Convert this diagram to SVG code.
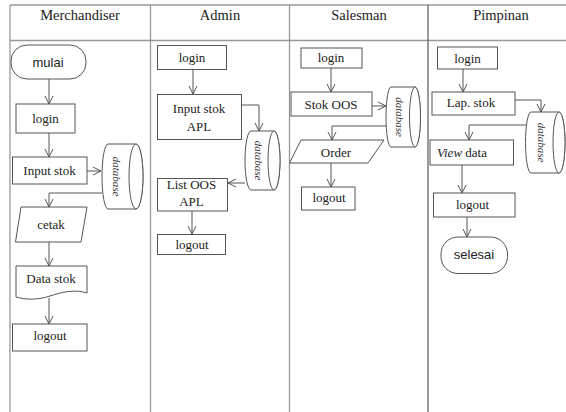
<svg xmlns="http://www.w3.org/2000/svg" width="566" height="412" viewBox="0 0 566 412">
  <defs>
    <marker id="arr" markerUnits="userSpaceOnUse" markerWidth="12" markerHeight="12" refX="9" refY="5" orient="auto">
      <path d="M1,1 L9,5 L1,9" fill="none" stroke="#555" stroke-width="1"/>
    </marker>
  </defs>
  <style>
    .lane { stroke: #999; stroke-width: 1.3; fill: none; }
    .box { fill: #fff; stroke: #555; stroke-width: 1; }
    .conn { fill: none; stroke: #555; stroke-width: 1; marker-end: url(#arr); }
    .hdr { font-family: "Liberation Serif", serif; font-size: 14.5px; fill: #222; text-anchor: middle; }
    .t { font-family: "Liberation Serif", serif; font-size: 13px; fill: #222; text-anchor: middle; }
    .s { font-family: "Liberation Sans", Arial, sans-serif; font-size: 13px; fill: #222; text-anchor: middle; }
    .db { font-family: "Liberation Serif", serif; font-size: 11px; font-style: italic; fill: #333; text-anchor: middle; }
  </style>
  <rect width="566" height="412" fill="#fff"/>

  <!-- swimlane frame -->
  <g id="lanes">
    <line class="lane" x1="10" y1="5" x2="566" y2="5"/>
    <line class="lane" x1="10" y1="40.5" x2="566" y2="40.5"/>
    <line class="lane" x1="10" y1="5" x2="10" y2="412"/>
    <line class="lane" x1="150.5" y1="5" x2="150.5" y2="412"/>
    <line class="lane" x1="289.5" y1="5" x2="289.5" y2="412"/>
    <line class="lane" x1="428" y1="5" x2="428" y2="412" style="stroke:#666"/>
    <text class="hdr" x="80" y="20">Merchandiser</text>
    <text class="hdr" x="220" y="20">Admin</text>
    <text class="hdr" x="359" y="20">Salesman</text>
    <text class="hdr" x="501" y="20">Pimpinan</text>
  </g>

  <!-- connectors -->
  <g id="connectors">
    <!-- Merchandiser -->
    <path class="conn" d="M49,79 V104"/>
    <path class="conn" d="M49,133 V157"/>
    <path class="conn" d="M87,171 H101"/>
    <path class="conn" d="M102,193 H49 V207"/>
    <path class="conn" d="M49,242 V266"/>
    <path class="conn" d="M49,298 V324"/>
    <!-- Admin -->
    <path class="conn" d="M193,69 V94"/>
    <path class="conn" d="M242,105 H259 V131"/>
    <path class="conn" d="M245,183 H228"/>
    <path class="conn" d="M192,211 V234"/>
    <!-- Salesman -->
    <path class="conn" d="M331,68 V92"/>
    <path class="conn" d="M372,106 H386"/>
    <path class="conn" d="M386,126 H332 V140"/>
    <path class="conn" d="M331,163 V187"/>
    <!-- Pimpinan -->
    <path class="conn" d="M463,69 V92"/>
    <path class="conn" d="M515,100 H541 V112"/>
    <path class="conn" d="M526,125 H469 V140"/>
    <path class="conn" d="M462,165 V193"/>
    <path class="conn" d="M467,217 V237"/>
  </g>

  <!-- Merchandiser lane -->
  <g id="m-mulai">
    <rect class="box" x="11" y="45" width="75" height="34" rx="16" ry="16"/>
    <text class="s" x="48" y="67">mulai</text>
  </g>
  <g id="m-login">
    <rect class="box" x="16" y="104" width="59" height="29"/>
    <text class="t" x="45.5" y="123">login</text>
  </g>
  <g id="m-input">
    <rect class="box" x="12.5" y="157" width="74.5" height="27"/>
    <text class="t" x="49.5" y="175">Input stok</text>
  </g>
  <g id="m-db">
    <path class="box" d="M108,144 H136 A7,32.5 0 0 1 136,209 H108 A6,32.5 0 0 1 108,144 Z"/>
    <ellipse class="box" cx="136" cy="176.5" rx="7" ry="32.5"/>
    <text class="db" transform="translate(116,176.5) rotate(90)" y="3.5">database</text>
  </g>
  <g id="m-cetak">
    <polygon class="box" points="21,207 87,207 81,242 15.5,242"/>
    <text class="t" x="51" y="229">cetak</text>
  </g>
  <g id="m-datastok">
    <path class="box" d="M16,266 H87 V293 C75,289 62,292 50,296 C38,300 26,300 16,297 Z"/>
    <text class="t" x="51" y="283">Data stok</text>
  </g>
  <g id="m-logout">
    <rect class="box" x="12.5" y="324" width="74.5" height="27"/>
    <text class="t" x="50" y="340">logout</text>
  </g>

  <!-- Admin lane -->
  <g id="a-login">
    <rect class="box" x="157.5" y="45.5" width="69" height="24"/>
    <text class="t" x="192" y="62">login</text>
  </g>
  <g id="a-input">
    <rect class="box" x="157.5" y="94.5" width="84" height="45"/>
    <text class="t" x="199" y="113">Input stok</text>
    <text class="t" x="199" y="131">APL</text>
  </g>
  <g id="a-db">
    <path class="box" d="M251,131 H274 A6,29.5 0 0 1 274,190 H251 A6,29.5 0 0 1 251,131 Z"/>
    <ellipse class="box" cx="274" cy="160.5" rx="6" ry="29.5"/>
    <text class="db" transform="translate(258,160.5) rotate(90)" y="3.5">database</text>
  </g>
  <g id="a-list">
    <rect class="box" x="157.5" y="178.5" width="70" height="32.5"/>
    <text class="t" x="191.5" y="189">List OOS</text>
    <text class="t" x="191.5" y="206">APL</text>
  </g>
  <g id="a-logout">
    <rect class="box" x="157.5" y="234.5" width="68" height="20"/>
    <text class="t" x="192" y="249">logout</text>
  </g>

  <!-- Salesman lane -->
  <g id="s-login">
    <rect class="box" x="301" y="48" width="61" height="20"/>
    <text class="t" x="331" y="62">login</text>
  </g>
  <g id="s-stok">
    <rect class="box" x="291" y="92" width="81" height="24"/>
    <text class="t" x="331" y="109">Stok OOS</text>
  </g>
  <g id="s-db">
    <path class="box" d="M391,87 H415 A5.5,30 0 0 1 415,147 H391 A5,30 0 0 1 391,87 Z"/>
    <ellipse class="box" cx="415" cy="117" rx="5.5" ry="30"/>
    <text class="db" transform="translate(399,117) rotate(90)" y="3.5">database</text>
  </g>
  <g id="s-order">
    <polygon class="box" points="301,140 384,140 368,163 289.5,163"/>
    <text class="t" x="336" y="157">Order</text>
  </g>
  <g id="s-logout">
    <rect class="box" x="301.5" y="187" width="53.5" height="23"/>
    <text class="t" x="329" y="202">logout</text>
  </g>

  <!-- Pimpinan lane -->
  <g id="p-login">
    <rect class="box" x="437.5" y="47" width="60" height="22"/>
    <text class="t" x="467.5" y="62.5">login</text>
  </g>
  <g id="p-lap">
    <rect class="box" x="432" y="92" width="83" height="23"/>
    <text class="t" x="471" y="107">Lap. stok</text>
  </g>
  <g id="p-db">
    <path class="box" d="M531,112 H559 A6,30.5 0 0 1 559,173 H531 A5.5,30.5 0 0 1 531,112 Z"/>
    <ellipse class="box" cx="559" cy="142.5" rx="6" ry="30.5"/>
    <text class="db" transform="translate(541,142.5) rotate(90)" y="3.5">database</text>
  </g>
  <g id="p-view">
    <rect class="box" x="430" y="140" width="83.5" height="25"/>
    <text class="t" x="462" y="157"><tspan font-style="italic">View</tspan> data</text>
  </g>
  <g id="p-logout">
    <rect class="box" x="433.5" y="193" width="81.5" height="24"/>
    <text class="t" x="472.5" y="209">logout</text>
  </g>
  <g id="p-selesai">
    <rect class="box" x="441" y="237" width="66.5" height="36.5" rx="17" ry="17"/>
    <text class="s" x="474" y="259">selesai</text>
  </g>
</svg>
